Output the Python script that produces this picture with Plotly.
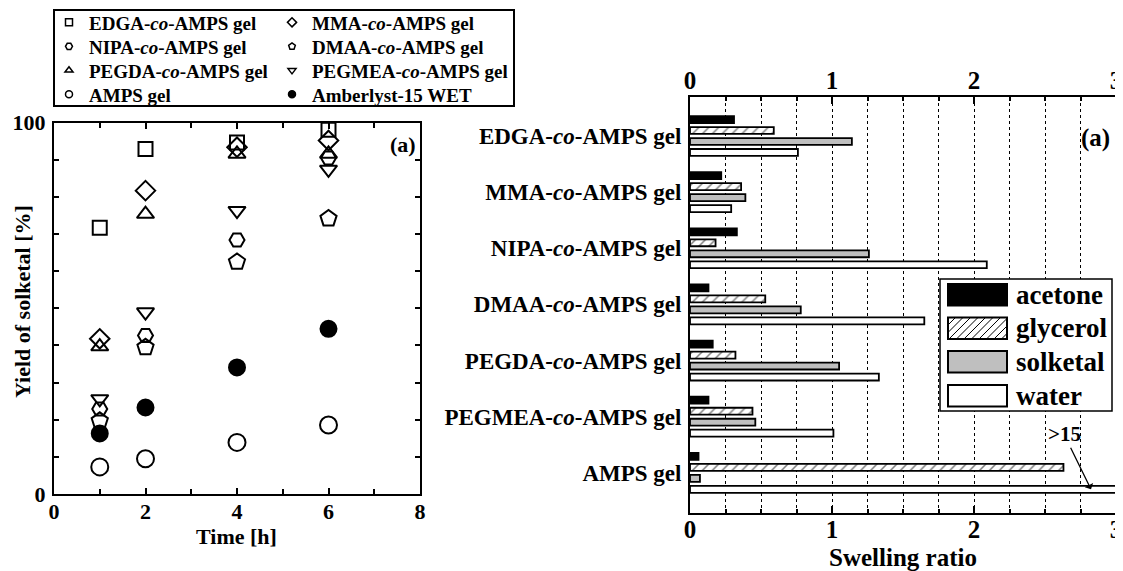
import plotly.graph_objects as go

W, H = 1123, 571
FONT = "Liberation Serif"
PAGE_OFFSET = 8  # default body margin of the written html page

# ---------------- data: left panel (yield of solketal) ----------------
time_h = [1, 2, 4, 6]
yield_edga = [71.7, 92.9, 94.7, 98.1]
yield_mma = [41.8, 81.7, 93.4, 95.2]
yield_nipa = [22.9, 42.7, 68.4, 90.5]
yield_dmaa = [19.7, 39.5, 62.5, 74.2]
yield_pegda = [39.7, 75.4, 91.6, 91.6]
yield_pegmea = [25.6, 49.0, 76.3, 87.4]
yield_amps = [7.3, 9.5, 13.9, 18.6]
yield_amberlyst = [16.3, 23.3, 34.1, 44.5]

# ---------------- data: right panel (swelling ratio) ----------------
gel_names = ["EDGA-co-AMPS gel", "MMA-co-AMPS gel", "NIPA-co-AMPS gel",
             "DMAA-co-AMPS gel", "PEGDA-co-AMPS gel", "PEGMEA-co-AMPS gel",
             "AMPS gel"]
swell_acetone = [0.31, 0.22, 0.33, 0.13, 0.16, 0.13, 0.06]
swell_glycerol = [0.59, 0.36, 0.18, 0.53, 0.32, 0.44, 2.63]
swell_solketal = [1.14, 0.39, 1.26, 0.78, 1.05, 0.46, 0.07]
swell_water = [0.76, 0.29, 2.09, 1.65, 1.33, 1.01, 15.0]
solvents = ["acetone", "glycerol", "solketal", "water"]


def px(x):
    return (x - PAGE_OFFSET) / W


def py(y):
    return 1 - (y - PAGE_OFFSET) / H


def bold(size):
    return dict(family=FONT, size=size, color="black", weight="bold")


fig = go.Figure()

# ---------- left panel scatter ----------
# (name, values, symbol, size, legend column, legend row)
left_series = [
    ("EDGA-<i>co</i>-AMPS gel", yield_edga, "square-open", 14, 0, 0),
    ("MMA-<i>co</i>-AMPS gel", yield_mma, "diamond-open", 15, 1, 0),
    ("NIPA-<i>co</i>-AMPS gel", yield_nipa, "hexagon2-open", 15, 0, 1),
    ("DMAA-<i>co</i>-AMPS gel", yield_dmaa, "pentagon-open", 17, 1, 1),
    ("PEGDA-<i>co</i>-AMPS gel", yield_pegda, "triangle-up-open", 15, 0, 2),
    ("PEGMEA-<i>co</i>-AMPS gel", yield_pegmea, "triangle-down-open", 15, 1, 2),
    ("AMPS gel", yield_amps, "circle-open", 17, 0, 3),
    ("Amberlyst-15 WET", yield_amberlyst, "circle", 16, 1, 3),
]
for name, vals, sym, size, col, row in left_series:
    fig.add_trace(go.Scatter(
        x=time_h, y=vals, mode="markers", name=name, showlegend=False,
        marker=dict(symbol=sym, size=size, color="black",
                    line=dict(color="black", width=2)),
        xaxis="x", yaxis="y"))

# legend entries: one small legend per entry, arranged in 2 columns x 4 rows
legend_text_x = [90, 313]
legend_row_y = [22.5, 46.5, 70.5, 94.5]
legend_layouts = {}
for i, (name, vals, sym, size, col, row) in enumerate(left_series):
    leg_id = "legend" if i == 0 else f"legend{i + 1}"
    fig.add_trace(go.Scatter(
        x=[None], y=[None], mode="markers", name=name, legend=leg_id,
        marker=dict(symbol=sym, size=7, color="black",
                    line=dict(color="black", width=1.5)),
        xaxis="x", yaxis="y"))
    legend_layouts[leg_id] = dict(
        x=px(legend_text_x[col] - 41), y=py(legend_row_y[row]),
        xanchor="left", yanchor="middle", orientation="v",
        bgcolor="rgba(0,0,0,0)", borderwidth=0, font=bold(19),
        itemsizing="trace")

# ---------- right panel bars ----------
bargap = 0.217
bar_styles = {
    "acetone": dict(color="black"),
    "glycerol": dict(color="white", pattern=dict(shape="/", fgcolor="black",
                                                  bgcolor="white", size=7,
                                                  solidity=0.22)),
    "solketal": dict(color="#bfbfbf"),
    "water": dict(color="white"),
}
swell_data = [swell_acetone, swell_glycerol, swell_solketal, swell_water]
for solv, vals in zip(solvents, swell_data):
    mk = dict(bar_styles[solv])
    mk["line"] = dict(color="black", width=1.8)
    fig.add_trace(go.Bar(
        y=gel_names, x=vals, orientation="h", name=solv, marker=mk,
        showlegend=False, xaxis="x2", yaxis="y2"))
# dummy trace for the top axis
fig.add_trace(go.Scatter(x=[None], y=[None], xaxis="x3", yaxis="y2",
                         showlegend=False, hoverinfo="skip"))

tick_text = [n.replace("-co-", "-<i>co</i>-") for n in gel_names]

axis_common = dict(showline=True, linecolor="black", linewidth=2,
                   zeroline=False, ticks="inside", tickcolor="black")

fig.update_layout(
    width=W, height=H,
    margin=dict(l=0, r=0, t=0, b=0, autoexpand=False),
    paper_bgcolor="white", plot_bgcolor="white",
    font=bold(20),
    showlegend=True,
    barmode="group", bargap=bargap, bargroupgap=0.37,
    xaxis=dict(**axis_common, domain=[px(54), px(420)], anchor="y",
               range=[0, 8], tickvals=[0, 2, 4, 6, 8], ticklen=6,
               tickwidth=1.5, mirror="ticks", showgrid=False,
               ticklabelstandoff=-3,
               minor=dict(tickvals=[1, 3, 5, 7], ticks="inside", ticklen=5,
                          tickwidth=1.5, tickcolor="black"),
               tickfont=bold(22)),
    yaxis=dict(**axis_common, domain=[py(494), py(122.7)], anchor="x",
               range=[0, 100], tickvals=[0, 100], ticklen=6, tickwidth=1.5,
               mirror="ticks", showgrid=False, ticklabelstandoff=2,
               minor=dict(tickvals=list(range(10, 100, 10)), ticks="inside",
                          ticklen=5, tickwidth=1.5, tickcolor="black"),
               tickfont=bold(22)),
    xaxis2=dict(**axis_common, domain=[px(690), px(1116)], anchor="y2",
                range=[0, 3], tickvals=[0, 1, 2, 3], ticklen=7, tickwidth=2,
                mirror="ticks", showgrid=True, gridcolor="black",
                griddash="dot", gridwidth=1, ticklabelstandoff=-7,
                minor=dict(dtick=0.25, tick0=0, ticks="inside", ticklen=4,
                           tickwidth=1.5, tickcolor="black", showgrid=True,
                           gridcolor="black", griddash="dot", gridwidth=1),
                tickfont=bold(25)),
    xaxis3=dict(overlaying="x2", matches="x2", side="top", anchor="y2",
                range=[0, 3], tickvals=[0, 1, 2, 3], ticks="inside",
                ticklen=7, tickwidth=2, tickcolor="black", showline=False,
                showgrid=False, zeroline=False, ticklabelstandoff=2,
                minor=dict(dtick=0.25, tick0=0, ticks="inside", ticklen=4,
                           tickwidth=1.5, tickcolor="black"),
                tickfont=bold(25)),
    yaxis2=dict(showline=True, linecolor="black", linewidth=2, mirror=True,
                zeroline=False, showgrid=False,
                domain=[py(512.7), py(96.7)], anchor="x2", type="category",
                categoryorder="array", categoryarray=gel_names,
                range=[6.71, -0.70], tickvals=gel_names, ticktext=tick_text,
                ticks="", ticklabelstandoff=2, tickfont=bold(23)),
    **legend_layouts,
)

shapes = []
annotations = []

# left legend frame
shapes.append(dict(type="rect", xref="paper", yref="paper",
                   x0=px(54), x1=px(514), y0=py(106), y1=py(10),
                   line=dict(color="black", width=2), fillcolor="rgba(0,0,0,0)"))

# right (bar) legend, drawn as shapes
shapes.append(dict(type="rect", xref="paper", yref="paper",
                   x0=px(940), x1=px(1112), y0=py(411), y1=py(279),
                   line=dict(color="black", width=1.5), fillcolor="white"))
sw_x0, sw_x1 = 948, 1007
row_tops = [284, 317.5, 351, 385]
sw_h = 21.5
sw_fill = {"acetone": "black", "glycerol": "white", "solketal": "#bfbfbf",
           "water": "white"}
for solv, top in zip(solvents, row_tops):
    bot = top + sw_h
    shapes.append(dict(type="rect", xref="paper", yref="paper",
                       x0=px(sw_x0), x1=px(sw_x1), y0=py(bot), y1=py(top),
                       line=dict(color="black", width=2),
                       fillcolor=sw_fill[solv], layer="above"))
    if solv == "glycerol":
        path = ""
        step = 7.5
        x = sw_x0 - sw_h
        while x < sw_x1:
            tmin = max(0.0, sw_x0 - x)
            tmax = min(sw_h, sw_x1 - x)
            if tmax > tmin:
                xa, ya = x + tmin, bot - tmin
                xb, yb = x + tmax, bot - tmax
                path += f"M{px(xa):.5f},{py(ya):.5f} L{px(xb):.5f},{py(yb):.5f} "
            x += step
        shapes.append(dict(type="path", xref="paper", yref="paper", path=path,
                           line=dict(color="black", width=1), layer="above"))
    annotations.append(dict(text=solv, xref="paper", yref="paper",
                            x=px(1014), y=py(top + sw_h / 2),
                            xanchor="left", yanchor="middle", showarrow=False,
                            font=bold(27)))

# panel labels and axis titles
annotations += [
    dict(text="(a)", xref="paper", yref="paper", x=px(402.5), y=py(144),
         xanchor="center", yanchor="middle", showarrow=False, font=bold(22)),
    dict(text="(a)", xref="paper", yref="paper", x=px(1095.5), y=py(138),
         xanchor="center", yanchor="middle", showarrow=False, font=bold(25)),
    dict(text="Time [h]", xref="paper", yref="paper", x=px(236), y=py(536),
         xanchor="center", yanchor="middle", showarrow=False, font=bold(22)),
    dict(text="Yield of solketal [%]", xref="paper", yref="paper", x=px(22),
         y=py(302), xanchor="center", yanchor="middle", textangle=-90,
         showarrow=False, font=bold(22)),
    dict(text="Swelling ratio", xref="paper", yref="paper", x=px(903),
         y=py(557.5), xanchor="center", yanchor="middle", showarrow=False,
         font=bold(25)),
]

# ">15" arrow pointing at the AMPS gel water bar
slot = (1 - bargap) / len(solvents)
water_offset = 1.5 * slot
annotations.append(dict(
    text=">15", xref="x2", yref="y2", x=2.824,
    y=gel_names.index("AMPS gel") + water_offset,
    ax=-27, ay=-55, showarrow=True, arrowhead=1, arrowsize=1.2,
    arrowwidth=1.3, arrowcolor="black", font=bold(21)))

fig.update_layout(shapes=shapes, annotations=annotations)

fig.write_html("out.html")
